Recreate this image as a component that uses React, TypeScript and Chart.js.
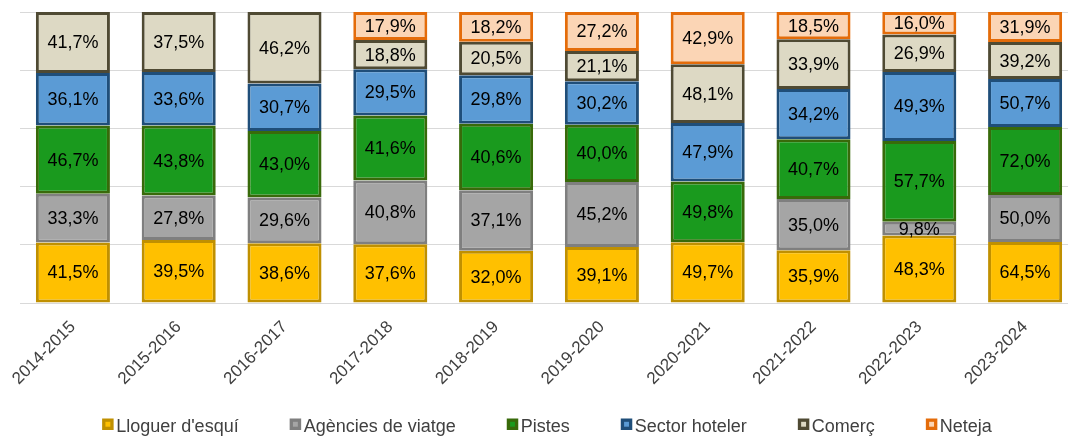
import React, { useEffect, useRef } from 'react';
import { Chart, registerables } from 'chart.js';

Chart.register(...registerables);

const categories = ['2014-2015', '2015-2016', '2016-2017', '2017-2018', '2018-2019', '2019-2020', '2020-2021', '2021-2022', '2022-2023', '2023-2024'];
const seriesNames = ["Lloguer d'esquí", 'Agències de viatge', 'Pistes', 'Sector hoteler', 'Comerç', 'Neteja'];

const lloguer = [41.5, 39.5, 38.6, 37.6, 32.0, 39.1, 49.7, 35.9, 48.3, 64.5];
const agencies = [33.3, 27.8, 29.6, 40.8, 37.1, 45.2, null, 35.0, 9.8, 50.0];
const pistes = [46.7, 43.8, 43.0, 41.6, 40.6, 40.0, 49.8, 40.7, 57.7, 72.0];
const sector = [36.1, 33.6, 30.7, 29.5, 29.8, 30.2, 47.9, 34.2, 49.3, 50.7];
const comerc = [41.7, 37.5, 46.2, 18.8, 20.5, 21.1, 48.1, 33.9, 26.9, 39.2];
const neteja = [null, null, null, 17.9, 18.2, 27.2, 42.9, 18.5, 16.0, 31.9];

const fillColors = ['#FFC000', '#A5A5A5', '#1A9A1E', '#5B9BD5', '#DDD9C4', '#FBD5B5'];
const borderColors = ['#C09000', '#7F7F7F', '#386A0A', '#1F4E79', '#4F4A33', '#E46C0A'];

const FONT = '"Liberation Sans", Arial, sans-serif';

const fmt = (v: number) => v.toFixed(1).replace('.', ',') + '%';

export default function App() {
  const ref = useRef<HTMLCanvasElement>(null);

  useEffect(() => {
    const series: (number | null)[][] = [lloguer, agencies, pistes, sector, comerc, neteja];
    const totals = categories.map((_, i) => series.reduce((s, arr) => s + (arr[i] ?? 0), 0));

    const datasets = series.map((arr, k) => ({
      label: seriesNames[k],
      data: arr.map((v, i) => (v == null ? null : (v / totals[i]) * 100)),
      backgroundColor: fillColors[k],
      borderColor: borderColors[k],
      borderWidth: 3,
      borderSkipped: false as const,
      barPercentage: 0.7,
      categoryPercentage: 1,
    }));

    const labelPlugin = {
      id: 'segLabels',
      afterDatasetsDraw(chart: any) {
        const ctx = chart.ctx;
        ctx.save();
        ctx.font = `18px ${FONT}`;
        ctx.fillStyle = '#000000';
        ctx.textAlign = 'center';
        ctx.textBaseline = 'middle';
        chart.data.datasets.forEach((_: any, k: number) => {
          const meta = chart.getDatasetMeta(k);
          meta.data.forEach((el: any, i: number) => {
            const v = series[k][i];
            if (v == null) return;
            const p = el.getProps(['x', 'y', 'base'], true);
            ctx.fillText(fmt(v), p.x, (p.y + p.base) / 2 + 1);
          });
        });
        ctx.restore();
      },
    };

    const legendPlugin = {
      id: 'customLegend',
      afterDraw(chart: any) {
        const ctx = chart.ctx;
        ctx.save();
        ctx.font = `18px ${FONT}`;
        const box = 11.5;
        const gapBoxText = 2.5;
        const gapItems = 51;
        const widths = seriesNames.map((n) => ctx.measureText(n).width);
        const total = widths.reduce((s, w) => s + box + gapBoxText + w, 0) + gapItems * (seriesNames.length - 1);
        const centerX = 547;
        const boxTop = 418.5;
        const baseline = 431.5;
        let x = centerX - total / 2;
        seriesNames.forEach((n, k) => {
          ctx.fillStyle = borderColors[k];
          ctx.fillRect(x, boxTop, box, box);
          ctx.fillStyle = fillColors[k];
          ctx.fillRect(x + 3.3, boxTop + 3.3, box - 6.6, box - 6.6);
          ctx.fillStyle = '#404040';
          ctx.textAlign = 'left';
          ctx.textBaseline = 'alphabetic';
          ctx.fillText(n, x + box + gapBoxText, baseline);
          x += box + gapBoxText + widths[k] + gapItems;
        });
        ctx.restore();
      },
    };

    const chart = new Chart(ref.current!, {
      type: 'bar',
      data: { labels: categories, datasets: datasets as any },
      options: {
        responsive: false,
        animation: false,
        devicePixelRatio: 1,
        layout: { padding: { left: 20, right: 2, top: 12, bottom: 0 } },
        plugins: {
          legend: { display: false },
          tooltip: { enabled: false },
        },
        scales: {
          x: {
            stacked: true,
            grid: { display: false, drawTicks: false },
            border: { display: true, color: '#D9D9D9', width: 1 },
            ticks: {
              maxRotation: 45,
              minRotation: 45,
              color: '#404040',
              font: { family: FONT, size: 17 },
              padding: 14,
            },
            afterFit: (scale: any) => {
              scale.height = 133;
            },
          },
          y: {
            stacked: true,
            min: 0,
            max: 100,
            ticks: { display: false, stepSize: 20 },
            grid: { color: '#D9D9D9', lineWidth: 1, drawTicks: false },
            border: { display: false },
          },
        },
      },
      plugins: [labelPlugin, legendPlugin],
    });

    return () => chart.destroy();
  }, []);

  return (
    <div style={{ position: 'absolute', left: 0, top: 0, width: 1068, height: 436, overflow: 'hidden', background: '#fff' }}>
      <canvas ref={ref} width={1080} height={436} style={{ display: 'block' }} />
    </div>
  );
}
